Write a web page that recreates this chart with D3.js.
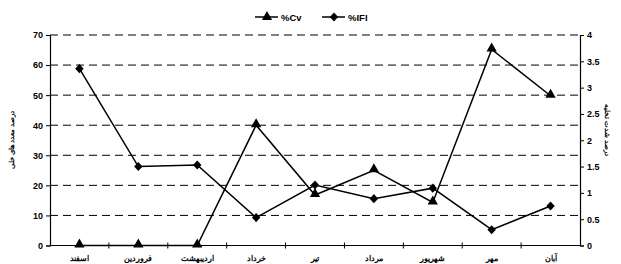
<!DOCTYPE html>
<html>
<head>
<meta charset="utf-8">
<script src="https://cdn.jsdelivr.net/npm/d3@7"></script>
<style>
  body { margin: 0; background: #fff; }
  text { font-family: "Liberation Sans", Arial, sans-serif; font-weight: bold; fill: #000; }
</style>
</head>
<body>
<svg id="chart" width="621" height="264"></svg>
<script>
var months = ['اسفند', 'فروردین', 'اردیبهشت', 'خرداد', 'تیر', 'مرداد', 'شهریور', 'مهر', 'آبان'];
var cvValues = [0, 0, 0, 40, 16.8, 25, 14.3, 65.2, 49.8];      // left axis
var ifiValues = [3.36, 1.5, 1.53, 0.53, 1.15, 0.89, 1.09, 0.3, 0.75]; // right axis
var leftTicks = [0, 10, 20, 30, 40, 50, 60, 70];
var rightTicks = [0, 0.5, 1, 1.5, 2, 2.5, 3, 3.5, 4];
var leftTitle = 'درصد معدد های خلی';
var rightTitle = 'درصد شدت تخلیه';

var margin = {left: 50, right: 41, top: 35, bottom: 18};
var W = 621, H = 264;
var svg = d3.select('#chart');

var x = d3.scaleBand().domain(months).range([margin.left, W - margin.right]);
var yL = d3.scaleLinear().domain([0, 70]).range([H - margin.bottom - 0.5, margin.top]);
var yR = d3.scaleLinear().domain([0, 4]).range([H - margin.bottom - 0.5, margin.top]);

// dashed gridlines from left ticks
svg.append('g').selectAll('line')
	.data(leftTicks.slice(1))
	.enter().append('line')
	.attr('x1', margin.left).attr('x2', W - margin.right)
	.attr('y1', function(d) { return yL(d) }).attr('y2', function(d) { return yL(d) })
	.attr('stroke', '#000').attr('stroke-width', 1).attr('stroke-dasharray', '8,5');

var axL = svg.append('g').attr('transform', 'translate(' + margin.left + ',0)')
	.call(d3.axisLeft(yL).tickValues(leftTicks).tickSize(4).tickPadding(3));
var axR = svg.append('g').attr('transform', 'translate(' + (W - margin.right) + ',0)')
	.call(d3.axisRight(yR).tickValues(rightTicks).tickFormat(d3.format('')).tickSize(4).tickPadding(3));
[axL, axR].forEach(function(a) {
	a.select('.domain').attr('stroke-width', 1.2);
	a.selectAll('text').style('font-size', '9px').style('font-family', '"Liberation Sans", Arial, sans-serif').style('font-weight', 'bold');
});

// x axis
var y0 = yL(0);
svg.append('line').attr('x1', margin.left).attr('x2', W - margin.right)
	.attr('y1', y0).attr('y2', y0).attr('stroke', '#000').attr('stroke-width', 1.2);
svg.append('g').selectAll('line')
	.data(months.slice(1))
	.enter().append('line')
	.attr('x1', function(d) { return x(d) }).attr('x2', function(d) { return x(d) })
	.attr('y1', y0 - 3).attr('y2', y0 + 3).attr('stroke', '#000');
svg.append('g').selectAll('text')
	.data(months)
	.enter().append('text')
	.attr('x', function(d) { return x(d) + x.bandwidth() / 2 })
	.attr('y', y0 + 15)
	.attr('text-anchor', 'middle')
	.style('font-size', '7.5px')
	.text(function(d) { return d });

function cx(d, i) { return x(months[i]) + x.bandwidth() / 2 }

var tri = d3.symbol().type(d3.symbolTriangle).size(46);
var dia = d3.symbol().type(d3.symbolDiamond).size(24);

// Cv series
svg.append('path').datum(cvValues)
	.attr('d', d3.line().x(cx).y(function(d) { return yL(d) }))
	.attr('fill', 'none').attr('stroke', '#000').attr('stroke-width', 1.5);
svg.append('g').selectAll('path')
	.data(cvValues).enter().append('path')
	.attr('d', tri())
	.attr('transform', function(d, i) { return 'translate(' + cx(d, i) + ',' + (yL(d) - 1) + ')' });

// IFI series
svg.append('path').datum(ifiValues)
	.attr('d', d3.line().x(cx).y(function(d) { return yR(d) }))
	.attr('fill', 'none').attr('stroke', '#000').attr('stroke-width', 1.5);
svg.append('g').selectAll('path')
	.data(ifiValues).enter().append('path')
	.attr('d', dia())
	.attr('transform', function(d, i) { return 'translate(' + cx(d, i) + ',' + yR(d) + ') scale(1.6,1)' });

// axis titles
svg.append('text').attr('transform', 'translate(14,140) rotate(-90)')
	.attr('text-anchor', 'middle').style('font-size', '7px').text(leftTitle);
svg.append('text').attr('transform', 'translate(605,130) rotate(90)')
	.attr('text-anchor', 'middle').style('font-size', '7px').text(rightTitle);

// legend
var legend = [{name: '%Cv', sym: tri(), sx: 1, x: 255}, {name: '%IFI', sym: dia(), sx: 1.6, x: 322}];
var lg = svg.append('g').selectAll('g').data(legend).enter().append('g')
	.attr('transform', function(d) { return 'translate(' + d.x + ',17)' });
lg.append('line').attr('x1', 0).attr('x2', 23).attr('stroke', '#000').attr('stroke-width', 1.5);
lg.append('path').attr('d', function(d) { return d.sym })
	.attr('transform', function(d) { return 'translate(12,0) scale(' + d.sx + ',1)' });
lg.append('text').attr('x', 26).attr('y', 3.5).style('font-size', '9.5px').text(function(d) { return d.name });
</script>
</body>
</html>
